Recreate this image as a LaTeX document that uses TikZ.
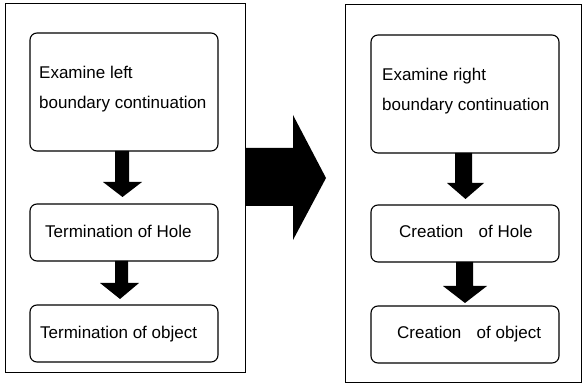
\documentclass[tikz,border=0pt]{standalone}
\usepackage{fontspec}
\setmainfont{Liberation Sans}
\begin{document}
\begin{tikzpicture}[x=1pt,y=-1pt,
  outerbox/.style={draw=black,line width=1pt},
  innerbox/.style={draw=black,line width=1.1pt,rounded corners=7pt,minimum width=188pt,inner sep=0pt},
  txt/.style={font=\fontsize{17}{19}\selectfont,inner sep=0pt,anchor=base west},
  blockarrow/.style={fill=black,draw=none}]
\useasboundingbox (0,0) rectangle (582,387);
% outer frames
\draw[outerbox] (5,4) rectangle (245,373);
\draw[outerbox] (345,5) rectangle (581.5,383);
% left column boxes
\node[innerbox,minimum height=118pt] (L1) at (124,92) {};
\node[innerbox,minimum height=57pt] (L2) at (124,232.5) {};
\node[innerbox,minimum height=57pt] (L3) at (124,333.5) {};
% right column boxes
\node[innerbox,minimum height=118pt] (R1) at (465,94) {};
\node[innerbox,minimum height=57pt] (R2) at (465,233.5) {};
\node[innerbox,minimum height=57pt] (R3) at (465,334.5) {};
% texts
\node[txt] (tL1a) at (39,79) {Examine left};
\node[txt] (tL1b) at (39,109) {boundary continuation};
\node[txt] (tL2) at (45,238) {Termination of Hole};
\node[txt] (tL3) at (40,339) {Termination of object};
\node[txt] (tR1a) at (382,81) {Examine right};
\node[txt] (tR1b) at (382,111) {boundary continuation};
\node[txt] (tR2) at (399,238) {Creation\hspace{0.9em}of Hole};
\node[txt] (tR3) at (397,339) {Creation\hspace{0.9em}of object};
% small block arrows (left)
\fill[blockarrow] (115,151) -- (129,151) -- (129,182) -- (142,182) -- (122.5,197) -- (103,182) -- (115,182) -- cycle;
\fill[blockarrow] (115,261) -- (128,261) -- (128,283) -- (139,283) -- (120,299) -- (100,283) -- (115,283) -- cycle;
% small block arrows (right)
\fill[blockarrow] (455,153) -- (472,153) -- (472,183) -- (484,183) -- (465.5,199) -- (447,183) -- (455,183) -- cycle;
\fill[blockarrow] (456,262) -- (473,262) -- (473,286) -- (487,286) -- (465,303) -- (443,286) -- (456,286) -- cycle;
% big block arrow between panels
\fill[blockarrow] (245,148) -- (293,148) -- (293,115) -- (326,178) -- (293,240) -- (293,206) -- (245,206) -- cycle;
\end{tikzpicture}
\end{document}
